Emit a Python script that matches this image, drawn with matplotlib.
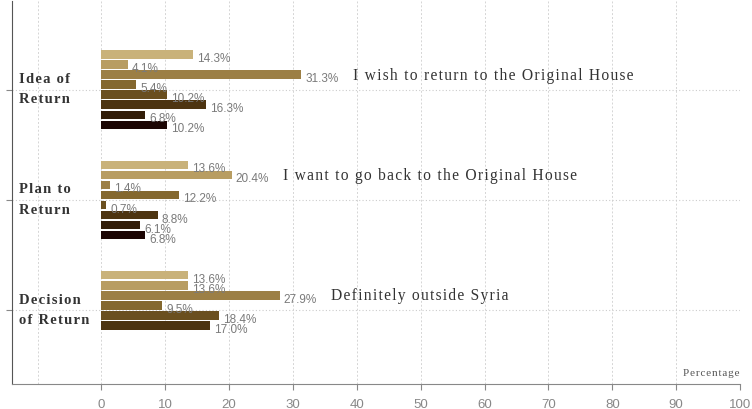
import numpy as np
import matplotlib
matplotlib.use("Agg")
import matplotlib.pyplot as plt
import matplotlib.transforms as mtransforms

# ── data ────────────────────────────────────────────────────────────────
groups = ["Idea of\nReturn", "Plan to\nReturn", "Decision\nof Return"]
idea_values = [14.3, 4.1, 31.3, 5.4, 10.2, 16.3, 6.8, 10.2]
plan_values = [13.6, 20.4, 1.4, 12.2, 0.7, 8.8, 6.1, 6.8]
decision_values = [13.6, 13.6, 27.9, 9.5, 18.4, 17.0]
group_values = [idea_values, plan_values, decision_values]
notes = ["I wish to return to the Original House",
         "I want to go back to the Original House",
         "Definitely outside Syria"]
note_slot = [2, 1, 2]
x_ticks = list(range(0, 101, 10))

slot_colors = ["#c9b27a", "#b89d62", "#9c7f45", "#84682f",
               "#6a4f1f", "#4d3410", "#321d08", "#1c0604"]


def spaced(text, gap):
    # crude letter spacing: put a spacing char between every character
    return "\n".join(gap.join(line) for line in text.split("\n"))


SERIF = ["Liberation Serif", "DejaVu Serif"]

# ── figure ──────────────────────────────────────────────────────────────
fig = plt.figure(figsize=(7.52, 4.10), dpi=100)
ax = fig.add_axes([0.016, 0.061, 0.968, 0.934])

slot = 0.091
bar_h = 0.077
centers = [2, 1, 0]
for gi, vals in enumerate(group_values):
    c = centers[gi]
    ys = [c + (3.5 - i) * slot for i in range(len(vals))]
    ax.barh(ys, vals, height=bar_h, color=slot_colors[:len(vals)], zorder=3)
    for y, v in zip(ys, vals):
        ax.annotate(f"{v:.1f}%", (v, y), xytext=(3, -2.5), textcoords="offset points",
                    ha="left", va="center", fontsize=8.5, color="#7a7a7a",
                    family="Liberation Sans", zorder=4)
    k = note_slot[gi]
    ax.annotate(spaced(notes[gi], "\u200a"), (vals[k], ys[k]), xytext=(37, 0),
                textcoords="offset points", ha="left", va="center", fontsize=11.2,
                color="#333333", family=SERIF, zorder=4)

# group labels inside the axes, left of the bars
trans = mtransforms.blended_transform_factory(ax.transAxes, ax.transData)
for gi, name in enumerate(groups):
    ax.text(0.010, centers[gi] + 0.01, spaced(name, "\u200a"), transform=trans,
            ha="left", va="center", fontsize=10.5, fontweight="bold",
            family=SERIF, color="#333333", linespacing=1.75)

ax.set_xlim(-14, 100)
ax.set_ylim(-0.667, 2.803)
ax.set_xticks(x_ticks)
ax.set_xticklabels([str(t) for t in x_ticks], fontsize=9.5, color="#888888",
                   family="Liberation Sans")
ax.set_yticks(centers)
ax.set_yticklabels([])
ax.tick_params(axis="x", length=4, color="#888888", pad=6)
ax.tick_params(axis="y", length=4, direction="out", color="#888888")

for x in [-10] + x_ticks:
    ax.axvline(x, color="#d5d5d5", linestyle=(0, (2, 2)), linewidth=0.7, zorder=0)
for y in centers:
    ax.axhline(y, color="#cccccc", linestyle=(0, (1, 2)), linewidth=0.8, zorder=0)

ax.spines["top"].set_visible(False)
ax.spines["right"].set_visible(False)
ax.spines["left"].set_color("#555555")
ax.spines["bottom"].set_color("#888888")

ax.text(100, -0.56, spaced("Percentage", "\u200a"), ha="right", va="center",
        fontsize=8, family=SERIF, color="#555555")

fig.savefig("out.png", dpi=100)
